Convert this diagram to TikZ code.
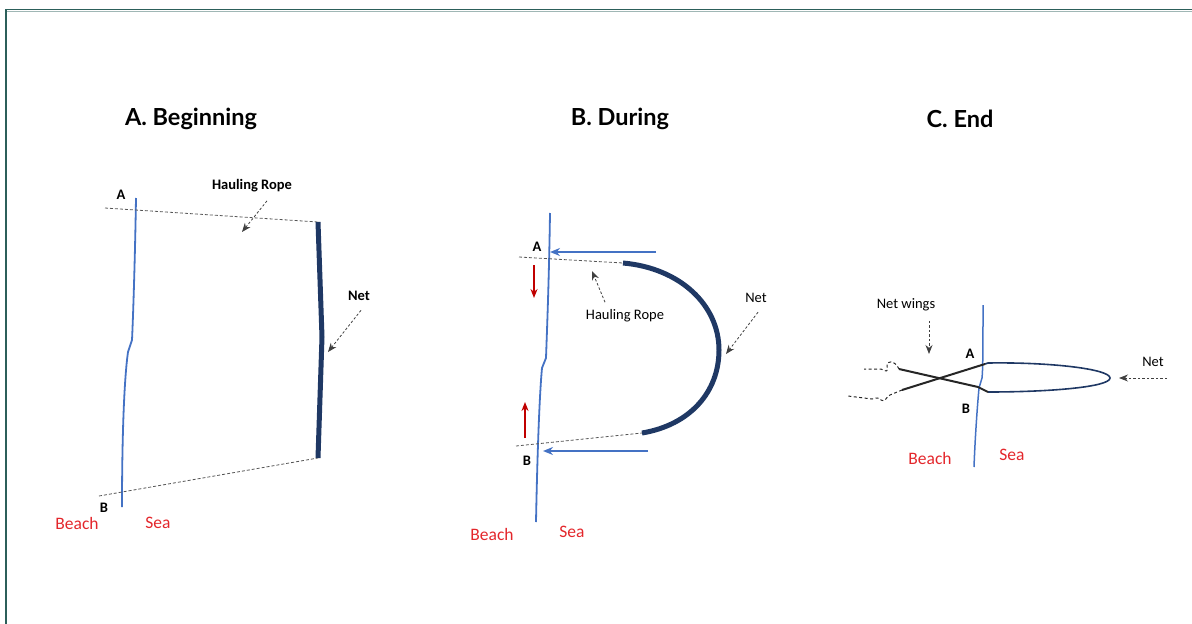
\documentclass[tikz,border=0pt]{standalone}
\usepackage{fontspec}
\setmainfont{Carlito}
\newfontfamily\headfont{Lato}
\usepackage{xcolor}
\definecolor{cShore}{HTML}{4472C4}
\definecolor{cNet}{HTML}{1F3864}
\definecolor{cSide}{HTML}{E3262B}
\definecolor{cPull}{HTML}{C00000}
\definecolor{cRope}{HTML}{555555}
\definecolor{cFrame}{HTML}{2C5F5A}
\usetikzlibrary{arrows.meta,positioning}
\tikzset{
  lbl-title/.style={font=\headfont\bfseries\fontsize{23.5}{26}\selectfont},
  lbl-point/.style={font=\bfseries\fontsize{14.5}{16}\selectfont},
  lbl-side/.style={text=cSide,font=\fontsize{17.5}{20}\selectfont},
  lbl-note/.style={font=\fontsize{14.5}{17}\selectfont},
  lbl-note-bold/.style={font=\bfseries\fontsize{14.5}{17}\selectfont},
  shore-line/.style={draw=cShore,line width=1.8pt},
  net-line/.style={draw=cNet,line width=5pt},
  loop-line/.style={draw=cNet,line width=1.6pt},
  wing-line/.style={draw=black!85,line width=2pt},
  wing-end/.style={draw=black!85,line width=1pt,dash pattern=on 3pt off 2.5pt},
  rope-line/.style={draw=cRope,line width=0.8pt,dash pattern=on 3pt off 2pt},
  arrow-note/.style={-{Stealth[length=9pt,width=7pt]},draw=black!75,line width=0.8pt,dash pattern=on 2.5pt off 2pt},
  arrow-haul/.style={-{Stealth[length=10pt,width=8pt]},draw=cShore,line width=2.6pt},
  arrow-pull/.style={-{Stealth[length=9pt,width=7pt]},draw=cPull,line width=2.4pt},
}
\begin{document}
\begin{tikzpicture}[x=1pt,y=-1pt]
  \useasboundingbox (0,0) rectangle (1192,624);
  % frame
  \draw[cFrame!45,line width=1pt] (7,11.5) -- (1192,11.5);
  \draw[cFrame,line width=1.2pt] (6,624) -- (6,9.5) -- (1192,9.5);

  % A. Beginning
  \node[lbl-title] (tA) at (191,119) {A. Beginning};
  \coordinate (sA1) at (136,198);
  \coordinate (sA2) at (122,507);
  \draw[shore-line] (sA1) .. controls (135,260) and (133,320) .. (132,340)
    -- (128,352) .. controls (124,380) and (122,440) .. (sA2);
  \coordinate (rA1) at (105,208);
  \coordinate (rA2) at (99,496);
  \coordinate (nA1) at (318,222);
  \coordinate (nA2) at (322,337);
  \coordinate (nA3) at (318,458);
  \draw[rope-line] (rA1) -- (nA1);
  \draw[rope-line] (rA2) -- (nA3);
  \draw[net-line] (nA1) -- (nA2) -- (nA3);
  \node[lbl-note-bold] (hA) at (252,186) {Hauling Rope};
  \coordinate (hAt) at (242,232);
  \draw[arrow-note] ([xshift=15pt,yshift=-5pt]hA.south) -- (hAt);
  \node[lbl-note-bold] (lnA) at (359,296) {Net};
  \coordinate (lnAt) at (328,352);
  \draw[arrow-note] ([xshift=2pt,yshift=-6pt]lnA.south) -- (lnAt);
  \node[lbl-point] (pAa) at (121,195) {A};
  \node[lbl-point] (pAb) at (104,508) {B};
  \node[lbl-side] (bA) at (77,523) {Beach};
  \node[lbl-side] (sA) at (158,523) {Sea};

  % B. During
  \node[lbl-title] (tB) at (620,119) {B. During};
  \coordinate (sB1) at (550,213);
  \coordinate (sB2) at (536,522);
  \draw[shore-line] (sB1) .. controls (549,280) and (547,330) .. (546,358)
    -- (542,368) .. controls (539,400) and (537,470) .. (sB2);
  \coordinate (rB1) at (519,257);
  \coordinate (rB2) at (516,446);
  \coordinate (nB1) at (623,263);
  \coordinate (nB2) at (719,350);
  \coordinate (nB3) at (642,433);
  \draw[rope-line] (rB1) -- (nB1);
  \draw[rope-line] (rB2) -- (nB3);
  \draw[net-line] (nB1) .. controls (680,268) and (719,305) .. (nB2)
    .. controls (719,392) and (690,425) .. (nB3);
  \coordinate (hB1s) at (656,252);
  \coordinate (hB1e) at (550,252);
  \coordinate (hB2s) at (648,451);
  \coordinate (hB2e) at (543,451);
  \draw[arrow-haul] (hB1s) -- (hB1e);
  \draw[arrow-haul] (hB2s) -- (hB2e);
  \coordinate (uB1s) at (534,265);
  \coordinate (uB1e) at (534,298);
  \coordinate (uB2s) at (525,438);
  \coordinate (uB2e) at (525,402);
  \draw[arrow-pull] (uB1s) -- (uB1e);
  \draw[arrow-pull] (uB2s) -- (uB2e);
  \node[lbl-note] (hB) at (625,316) {Hauling Rope};
  \coordinate (hBt) at (592,271);
  \draw[arrow-note] ([xshift=-20pt,yshift=4pt]hB.north) -- (hBt);
  \node[lbl-note] (lnB) at (756,298) {Net};
  \coordinate (lnBt) at (726,354);
  \draw[arrow-note] ([xshift=2pt,yshift=-6pt]lnB.south) -- (lnBt);
  \node[lbl-point] (pBa) at (537,247) {A};
  \node[lbl-point] (pBb) at (527,461) {B};
  \node[lbl-side] (bB) at (492,534) {Beach};
  \node[lbl-side] (sB) at (572,532) {Sea};

  % C. End
  \node[lbl-title] (tC) at (960,119) {C. End};
  \coordinate (sC1) at (983,305);
  \coordinate (sC2) at (974,467);
  \draw[shore-line,line width=1.5pt] (sC1) .. controls (983,340) and (983,370) .. (982,378)
    -- (979,388) .. controls (977,410) and (975,440) .. (sC2);
  \coordinate (wA) at (985,364);
  \coordinate (wB) at (988,392);
  \coordinate (nC) at (1110,378);
  \draw[loop-line] (wA) -- (988,363) .. controls (1050,362) and (1110,369) .. (nC)
    .. controls (1110,387) and (1050,392) .. (wB);
  \coordinate (wU) at (899,369);
  \coordinate (wL) at (902,390);
  \draw[wing-line] (wU) -- (978,387) -- (wB);
  \draw[wing-line] (wA) -- (wL);
  \draw[wing-end] (wU) .. controls (895,360) and (886,360) .. (887,366)
    .. controls (889,372) and (886,372) .. (881,369) -- (864,369);
  \draw[wing-end] (wL) -- (890,395) .. controls (886,397) and (885,403) .. (881,400)
    .. controls (879,397) and (876,398) .. (872,399) -- (848,396);
  \node[lbl-note] (lnC) at (1153,362) {Net};
  \coordinate (lnCs) at (1167,378);
  \coordinate (lnCt) at (1119,378);
  \draw[arrow-note] (lnCs) -- (lnCt);
  \node[lbl-note] (wgC) at (906,305) {Net wings};
  \coordinate (wgCt) at (929,354);
  \draw[arrow-note] ([xshift=23pt,yshift=-6pt]wgC.south) -- (wgCt);
  \node[lbl-point] (pCa) at (970,354) {A};
  \node[lbl-point] (pCb) at (966,409) {B};
  \node[lbl-side] (bC) at (930,458) {Beach};
  \node[lbl-side] (sC) at (1012,455) {Sea};
\end{tikzpicture}
\end{document}
